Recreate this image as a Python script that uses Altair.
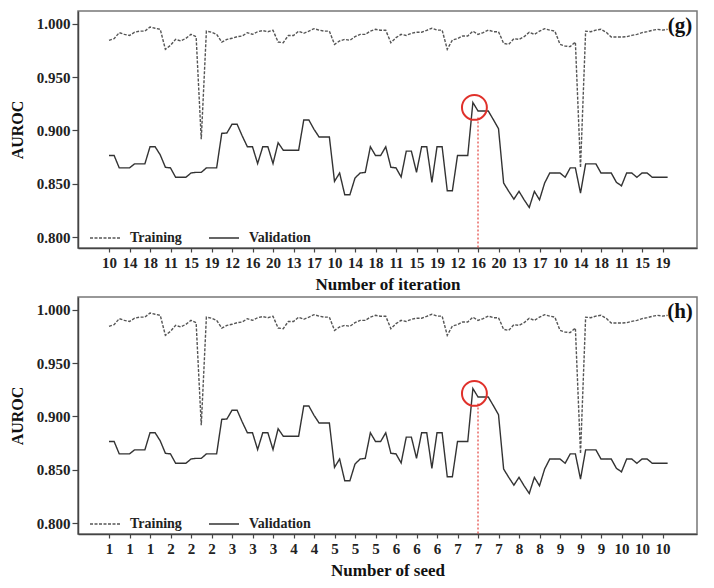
import json
import altair as alt
import pandas as pd

# ---------------- data ----------------
training = [
    0.9844, 0.9860, 0.9916, 0.9900, 0.9890, 0.9920, 0.9930, 0.9930, 0.9969, 0.9957,
    0.9947, 0.9760, 0.9797, 0.9853, 0.9838, 0.9863, 0.9900, 0.9878, 0.8916, 0.9930,
    0.9920, 0.9900, 0.9827, 0.9853, 0.9863, 0.9878, 0.9885, 0.9916, 0.9900, 0.9925,
    0.9935, 0.9925, 0.9938, 0.9828, 0.9822, 0.9890, 0.9890, 0.9930, 0.9910, 0.9930,
    0.9953, 0.9940, 0.9930, 0.9930, 0.9806, 0.9838, 0.9853, 0.9844, 0.9878, 0.9900,
    0.9900, 0.9930, 0.9947, 0.9938, 0.9938, 0.9822, 0.9869, 0.9900, 0.9890, 0.9910,
    0.9920, 0.9920, 0.9938, 0.9957, 0.9940, 0.9940, 0.9760, 0.9847, 0.9860, 0.9885,
    0.9885, 0.9930, 0.9900, 0.9916, 0.9940, 0.9925, 0.9925, 0.9816, 0.9806, 0.9860,
    0.9853, 0.9878, 0.9920, 0.9900, 0.9930, 0.9953, 0.9940, 0.9930, 0.9806, 0.9790,
    0.9785, 0.9828, 0.8650, 0.9930, 0.9925, 0.9940, 0.9947, 0.9920, 0.9875, 0.9875,
    0.9875, 0.9878, 0.9890, 0.9900, 0.9916, 0.9925, 0.9938, 0.9947, 0.9940, 0.9947,
]
validation = [
    0.8764, 0.8764, 0.8648, 0.8648, 0.8648, 0.8686, 0.8686, 0.8686, 0.8846, 0.8846,
    0.8770, 0.8654, 0.8648, 0.8560, 0.8560, 0.8560, 0.8600, 0.8606, 0.8606, 0.8648,
    0.8648, 0.8648, 0.8972, 0.8975, 0.9057, 0.9057, 0.8947, 0.8846, 0.8846, 0.8689,
    0.8846, 0.8846, 0.8689, 0.8884, 0.8814, 0.8814, 0.8814, 0.8814, 0.9097, 0.9097,
    0.9010, 0.8937, 0.8937, 0.8937, 0.8522, 0.8600, 0.8396, 0.8396, 0.8553, 0.8600,
    0.8606, 0.8846, 0.8764, 0.8764, 0.8846, 0.8654, 0.8648, 0.8563, 0.8805, 0.8805,
    0.8607, 0.8846, 0.8846, 0.8513, 0.8846, 0.8846, 0.8434, 0.8434, 0.8764, 0.8764,
    0.8764, 0.9261, 0.9182, 0.9182, 0.9182, 0.9100, 0.9016, 0.8506, 0.8428, 0.8355,
    0.8428, 0.8349, 0.8277, 0.8428, 0.8349, 0.8506, 0.8600, 0.8600, 0.8600, 0.8560,
    0.8648, 0.8648, 0.8412, 0.8686, 0.8686, 0.8686, 0.8600, 0.8600, 0.8600, 0.8513,
    0.8480, 0.8600, 0.8600, 0.8560, 0.8600, 0.8600, 0.8560, 0.8560, 0.8560, 0.8560,
]
run_index = list(range(len(training)))

tick_positions = [0, 4, 8, 12, 16, 20, 24, 28, 32, 36, 40, 44, 48, 52, 56, 60,
                  64, 68, 72, 76, 80, 84, 88, 92, 96, 100, 104, 108]
iteration_labels = ["10", "14", "18", "11", "15", "19", "12", "16", "20", "13",
                    "17", "10", "14", "18", "11", "15", "19", "12", "16", "20",
                    "13", "17", "10", "14", "18", "11", "15", "19"]
seed_labels = ["1", "1", "1", "2", "2", "2", "3", "3", "3", "4", "4", "5", "5",
               "5", "6", "6", "6", "7", "7", "7", "8", "8", "9", "9", "9", "10",
               "10", "10"]
y_ticks = [0.800, 0.850, 0.900, 0.950, 1.000]

# highlighted best run (red circle + dotted marker)
best_marker_x = [72]
best_marker_top = [0.912]
circle_x = [71.3]
circle_y = [0.9215]

X_DOMAIN = [-6.05, 114.73]
Y_DOMAIN = [0.7897, 1.0119]
W, H = 619, 237
FONT = "Liberation Serif"
SERIES = ["Training", "Validation"]

df = pd.DataFrame({
    "idx": run_index * 2,
    "auroc": training + validation,
    "series": ["Training"] * len(training) + ["Validation"] * len(validation),
})
marker_df = pd.DataFrame({"x": best_marker_x, "y": best_marker_top, "y2": [Y_DOMAIN[0]]})
circle_df = pd.DataFrame({"x": circle_x, "y": circle_y})


def legend_obj():
    return alt.Legend(title=None, orient="none", legendX=11, legendY=211,
                      direction="horizontal", symbolType="stroke",
                      symbolSize=900, symbolStrokeWidth=1.3,
                      labelFont=FONT, labelFontWeight="bold", labelFontSize=14,
                      labelColor="#222", labelOffset=9, columnPadding=24)


def make_panel(tick_labels, x_title, tag):
    label_expr = json.dumps(tick_labels) + "[round(datum.value / 4)]"
    xs = alt.Scale(domain=X_DOMAIN, nice=False, zero=False)
    ys = alt.Scale(domain=Y_DOMAIN, nice=False, zero=False)

    def x_axis():
        return alt.Axis(values=tick_positions, labelExpr=label_expr, title=x_title,
                        labelAngle=0, labelOverlap=False, labelFlush=False,
                        labelBound=False, tickSize=4, labelPadding=3,
                        titlePadding=6, grid=False)

    def y_axis():
        return alt.Axis(values=y_ticks, format=".3f", title="AUROC", tickSize=6,
                        titlePadding=11, grid=False, labelOverlap=False)

    lines = alt.Chart(df).mark_line(interpolate="linear", strokeWidth=1.4).encode(
        x=alt.X("idx:Q", scale=xs, axis=x_axis()),
        y=alt.Y("auroc:Q", scale=ys, axis=y_axis()),
        strokeDash=alt.StrokeDash(
            "series:N",
            scale=alt.Scale(domain=SERIES, range=[[3, 1.5], [1, 0]]),
            legend=legend_obj(),
        ),
        color=alt.Color("series:N",
                        scale=alt.Scale(domain=SERIES, range=["#555555", "#333333"]),
                        legend=legend_obj()),
    )

    marker = alt.Chart(marker_df).mark_rule(color="#e0312b", strokeDash=[2, 2],
                                            strokeWidth=1.1).encode(
        x=alt.X("x:Q", scale=xs, axis=x_axis()),
        y=alt.Y("y:Q", scale=ys, axis=y_axis()),
        y2="y2:Q")

    circle = alt.Chart(circle_df).mark_point(shape="circle", filled=False,
                                             color="#e0312b", size=620,
                                             strokeWidth=2, opacity=1).encode(
        x=alt.X("x:Q", scale=xs, axis=x_axis()),
        y=alt.Y("y:Q", scale=ys, axis=y_axis()))

    tag_text = alt.Chart(pd.DataFrame({"t": [tag]})).mark_text(
        font=FONT, fontWeight="bold", fontSize=21, color="#111",
        align="center", baseline="middle").encode(
        text="t:N", x=alt.value(W - 17), y=alt.value(15))

    return alt.layer(lines, marker, circle, tag_text).properties(width=W, height=H)


panel_g = make_panel(iteration_labels, "Number of iteration", "(g)")
panel_h = make_panel(seed_labels, "Number of seed", "(h)")

chart = alt.vconcat(panel_g, panel_h, spacing=3).resolve_legend(
    color="independent", strokeDash="independent"
).resolve_scale(
    color="independent", strokeDash="independent"
).properties(
    padding={"left": 0, "top": 2, "right": 5, "bottom": 2},
    background="white",
).configure_view(
    stroke="#777777", strokeWidth=1.5
).configure_axis(
    labelFont=FONT, labelFontWeight="bold", labelFontSize=15, labelColor="#222",
    titleFont=FONT, titleFontWeight="bold", titleColor="#111",
    domainColor="#444", domainWidth=1.5, tickColor="#444", tickWidth=1.2,
    labelOverlap=False,
).configure_axisX(
    titleFontSize=17
).configure_axisY(
    titleFontSize=16
)

chart.save("out.html", embed_options={"renderer": "svg", "actions": False})
